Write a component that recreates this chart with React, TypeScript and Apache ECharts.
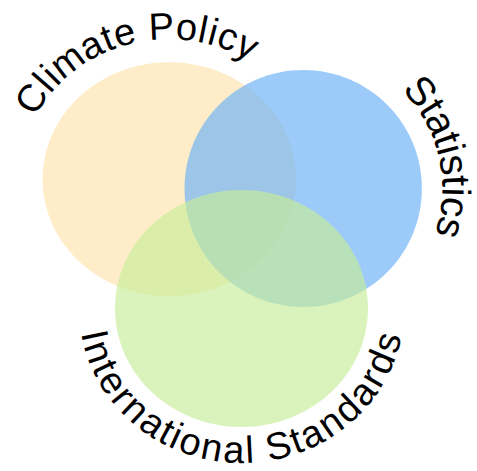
import React, { useEffect, useRef } from "react";
import * as echarts from "echarts";

// Venn sets (data space matches the 477x471 canvas, y downward)
const setNames = ["Climate Policy", "Statistics", "International Standards"];
const centerX = [169.3, 303.2, 241.5];
const centerY = [179.2, 188.5, 308.5];
const radiusX = [126.7, 118.7, 126.5];
const radiusY = [117.0, 118.5, 118.5];

// styling / label layout
const fillColors = [
  "rgba(253,228,172,0.66)",
  "rgba(105,176,247,0.66)",
  "rgba(199,237,153,0.66)",
];
const labelCenterDeg = [-105, -13, 90.5];
const labelOffset = [36, 34.5, 23];
const labelFontSize = [38, 40, 38];
const labelSpacing = [2, 1, 0.8];
const labelBottom = [false, false, true];
const FONT_FAMILY = '"Liberation Sans", Arial, sans-serif';

function measure(chars: string[], size: number): number[] {
  const cv = document.createElement("canvas");
  const ctx = cv.getContext("2d")!;
  ctx.font = `${size}px ${FONT_FAMILY}`;
  return chars.map((ch) => ctx.measureText(ch).width);
}

function walk(cx: number, cy: number, a: number, b: number, t0: number, s: number) {
  const dir = s >= 0 ? 1 : -1;
  const target = Math.abs(s);
  const dt = 0.0005;
  let t = t0;
  let len = 0;
  let px = cx + a * Math.cos(t);
  let py = cy + b * Math.sin(t);
  while (len < target) {
    const t2 = t + dir * dt;
    const nx = cx + a * Math.cos(t2);
    const ny = cy + b * Math.sin(t2);
    len += Math.hypot(nx - px, ny - py);
    px = nx;
    py = ny;
    t = t2;
  }
  return t;
}

export default function App() {
  const ref = useRef<HTMLDivElement>(null);
  useEffect(() => {
    document.body.style.margin = "0";
    if (!ref.current) return;
    const chart = echarts.init(ref.current, undefined, { renderer: "svg" });
    const data = setNames.map((_, i) => [centerX[i], centerY[i], radiusX[i], radiusY[i]]);

    const renderItem = (params: any, api: any) => {
      const i = params.dataIndex;
      const c = api.coord([api.value(0), api.value(1)]);
      const sz = api.size([api.value(2), api.value(3)]);
      const rx = sz[0];
      const ry = sz[1];
      const children: any[] = [
        {
          type: "ellipse",
          shape: { cx: c[0], cy: c[1], rx, ry },
          style: { fill: fillColors[i] },
        },
      ];
      const F = labelFontSize[i];
      const sp = labelSpacing[i];
      const chars = setNames[i].split("");
      const widths = measure(chars, F);
      const total = widths.reduce((p, q) => p + q, 0) + sp * (chars.length - 1);
      const a = rx + labelOffset[i];
      const b = ry + labelOffset[i];
      const tc = (labelCenterDeg[i] * Math.PI) / 180;
      const flip = labelBottom[i];
      let acc = -total / 2;
      chars.forEach((ch, k) => {
        const sMid = acc + widths[k] / 2;
        acc += widths[k] + sp;
        if (ch === " ") return;
        const t = walk(c[0], c[1], a, b, tc, flip ? -sMid : sMid);
        const x = c[0] + a * Math.cos(t);
        const y = c[1] + b * Math.sin(t);
        let dx = -a * Math.sin(t);
        let dy = b * Math.cos(t);
        if (flip) {
          dx = -dx;
          dy = -dy;
        }
        const rot = -Math.atan2(dy, dx);
        children.push({
          type: "text",
          x,
          y,
          rotation: rot,
          style: {
            text: ch,
            x: 0,
            y: 0,
            fill: "#000000",
            fontSize: F,
            lineHeight: Math.round(F * 0.75),
            fontFamily: FONT_FAMILY,
            align: "center",
            verticalAlign: "middle",
          },
        });
      });
      return { type: "group", children };
    };

    chart.setOption({
      animation: false,
      grid: { left: 0, right: 0, top: 0, bottom: 0 },
      xAxis: { type: "value", min: 0, max: 477, show: false },
      yAxis: { type: "value", min: 0, max: 471, inverse: true, show: false },
      series: [
        {
          type: "custom",
          silent: true,
          renderItem,
          encode: { x: 0, y: 1 },
          data,
        },
      ],
    });
    return () => chart.dispose();
  }, []);
  return <div ref={ref} style={{ width: 477, height: 471 }} />;
}
